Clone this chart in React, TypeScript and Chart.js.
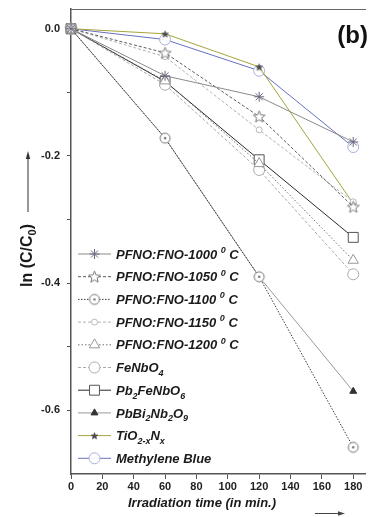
import React, { useEffect, useRef } from 'react';
import { Chart, registerables } from 'chart.js';
import { drawPoint } from 'chart.js/helpers';

Chart.register(...registerables);

// ---- data ----
const times = [0, 60, 120, 180];
const xTicks = [0, 20, 40, 60, 80, 100, 120, 140, 160, 180];
const yTicks = [-0.6, -0.5, -0.4, -0.3, -0.2, -0.1, 0];
const yLabelTicks = [-0.6, -0.4, -0.2, 0];

const seriesNames = [
  'PFNO:FNO-1000 ^{0} C',
  'PFNO:FNO-1050 ^{0} C',
  'PFNO:FNO-1100 ^{0} C',
  'PFNO:FNO-1150 ^{0} C',
  'PFNO:FNO-1200 ^{0} C',
  'FeNbO_{4}',
  'Pb_{2}FeNbO_{6}',
  'PbBi_{2}Nb_{2}O_{9}',
  'TiO_{2-x}N_{x}',
  'Methylene Blue',
];

const pfno1000 = [0, -0.074, -0.107, -0.178];
const pfno1050 = [0, -0.038, -0.138, -0.28];
const pfno1100 = [0, -0.172, -0.39, -0.658];
const pfno1150 = [0, -0.044, -0.159, -0.272];
const pfno1200 = [0, -0.082, -0.212, -0.364];
const feNbO4 = [0, -0.088, -0.222, -0.386];
const pb2FeNbO6 = [0, -0.083, -0.206, -0.328];
const pbBi2Nb2O9 = [0, -0.172, -0.39, -0.57];
const tio2xNx = [0, -0.008, -0.06, -0.275];
const methyleneBlue = [0, -0.017, -0.066, -0.186];

const seriesValues = [pfno1000, pfno1050, pfno1100, pfno1150, pfno1200, feNbO4, pb2FeNbO6, pbBi2Nb2O9, tio2xNx, methyleneBlue];

const FONT = '"Liberation Sans", Arial, sans-serif';

function toUnicode(s: string) {
  return s
    .replace(/\^\{0\}/g, '⁰')
    .replace(/_\{([^}]*)\}/g, (_m, g) =>
      g.split('').map((c: string) => ({ '0': '₀', '1': '₁', '2': '₂', '4': '₄', '6': '₆', '9': '₉', '-': '₋', x: 'ₓ' } as any)[c] || c).join('')
    );
}

function makeStar(r: number, inner: number, fill: string, stroke: string, lw: number) {
  const size = Math.ceil(r * 2 + lw * 2 + 2);
  const c = document.createElement('canvas');
  c.width = size;
  c.height = size;
  const g = c.getContext('2d')!;
  const cx = size / 2, cy = size / 2 + 0.5;
  g.beginPath();
  for (let i = 0; i < 10; i++) {
    const rad = i % 2 === 0 ? r : inner;
    const a = -Math.PI / 2 + (i * Math.PI) / 5;
    const px = cx + rad * Math.cos(a), py = cy + rad * Math.sin(a);
    if (i === 0) g.moveTo(px, py); else g.lineTo(px, py);
  }
  g.closePath();
  g.fillStyle = fill;
  g.fill();
  if (lw > 0) { g.strokeStyle = stroke; g.lineWidth = lw; g.stroke(); }
  return c;
}

function makeDotCircle(r: number, stroke: string) {
  const size = Math.ceil(r * 2 + 4);
  const c = document.createElement('canvas');
  c.width = size; c.height = size;
  const g = c.getContext('2d')!;
  const cx = size / 2, cy = size / 2;
  g.beginPath(); g.arc(cx, cy, r, 0, Math.PI * 2);
  g.fillStyle = '#fff'; g.fill();
  g.strokeStyle = stroke; g.lineWidth = 1; g.stroke();
  g.beginPath(); g.arc(cx, cy, 1.3, 0, Math.PI * 2);
  g.fillStyle = stroke; g.fill();
  return c;
}

function drawRich(ctx: CanvasRenderingContext2D, text: string, x: number, yMid: number, size: number, style: string) {
  const parts = text.split(/(\^\{[^}]*\}|_\{[^}]*\})/).filter((p) => p.length);
  let cx = x;
  const base = yMid + size * 0.36;
  for (const p of parts) {
    let t = p, fs = size, dy = 0;
    if (p.startsWith('^{')) { t = p.slice(2, -1); fs = Math.round(size * 0.68); dy = -size * 0.45; }
    else if (p.startsWith('_{')) { t = p.slice(2, -1); fs = Math.round(size * 0.68); dy = size * 0.28; }
    ctx.font = `${style} ${fs}px ${FONT}`;
    ctx.fillText(t, cx, base + dy);
    cx += ctx.measureText(t).width;
  }
}

const legendTop = 254;
const legendGap = 22.7;

const decorPlugin = {
  id: 'decor',
  afterDatasetsDraw(chart: any) {
    const ctx: CanvasRenderingContext2D = chart.ctx;
    const area = chart.chartArea;
    ctx.save();
    // top frame
    ctx.strokeStyle = '#666';
    ctx.lineWidth = 1;
    ctx.beginPath();
    ctx.moveTo(area.left, area.top + 0.5);
    ctx.lineTo(area.right + 1, area.top + 0.5);
    ctx.stroke();

    // panel label
    ctx.fillStyle = '#111';
    ctx.font = `bold 24px ${FONT}`;
    ctx.textAlign = 'right';
    ctx.textBaseline = 'middle';
    ctx.fillText('(b)', area.right + 3, 36);
    ctx.textAlign = 'left';
    ctx.textBaseline = 'alphabetic';

    // legend
    chart.data.datasets.forEach((ds: any, i: number) => {
      const y = legendTop + i * legendGap;
      ctx.save();
      ctx.strokeStyle = ds.borderColor;
      ctx.lineWidth = ds.borderWidth;
      ctx.setLineDash(ds.borderDash || []);
      ctx.beginPath();
      ctx.moveTo(78, y);
      ctx.lineTo(111, y);
      ctx.stroke();
      ctx.setLineDash([]);
      ctx.fillStyle = ds.pointBackgroundColor;
      ctx.strokeStyle = ds.pointBorderColor;
      ctx.lineWidth = ds.pointBorderWidth;
      drawPoint(ctx, { pointStyle: ds.pointStyle, radius: ds.pointRadius, rotation: 0, borderWidth: ds.pointBorderWidth } as any, 94.5, y);
      ctx.fillStyle = '#1a1a1a';
      drawRich(ctx, seriesNames[i], 116, y, 13, 'italic bold');
      ctx.restore();
    });

    // y axis title
    ctx.save();
    ctx.fillStyle = '#1a1a1a';
    ctx.translate(32, 287);
    ctx.rotate(-Math.PI / 2);
    drawRich(ctx, 'ln (C/C_{0})', 0, -5.8, 16, 'bold');
    ctx.restore();
    // y arrow
    ctx.strokeStyle = '#333';
    ctx.fillStyle = '#333';
    ctx.lineWidth = 1;
    ctx.beginPath();
    ctx.moveTo(28, 212);
    ctx.lineTo(28, 156);
    ctx.stroke();
    ctx.beginPath();
    ctx.moveTo(28, 151);
    ctx.lineTo(25.8, 159);
    ctx.lineTo(30.2, 159);
    ctx.closePath();
    ctx.fill();

    // x axis title
    ctx.fillStyle = '#1a1a1a';
    drawRich(ctx, 'Irradiation time (in min.)', 128, 502, 13, 'italic bold');
    // x arrow
    ctx.strokeStyle = '#444';
    ctx.fillStyle = '#444';
    ctx.beginPath();
    ctx.moveTo(315, 513.5);
    ctx.lineTo(340, 513.5);
    ctx.stroke();
    ctx.beginPath();
    ctx.moveTo(345, 513.5);
    ctx.lineTo(338, 511.3);
    ctx.lineTo(338, 515.7);
    ctx.closePath();
    ctx.fill();
    ctx.restore();
  },
};

export default function App() {
  const ref = useRef<HTMLCanvasElement | null>(null);

  useEffect(() => {
    if (!ref.current) return;
    const star1050 = makeStar(6.2, 2.7, '#ffffff', '#7a7a7a', 1);
    const starTi = makeStar(3.6, 1.6, '#4a4a4a', '#4a4a4a', 0.5);
    const dotCircle = makeDotCircle(5, '#777');

    const styles = [
      { borderColor: '#8a8a8a', borderDash: [], pointStyle: 'star', pointRadius: 5, pointBorderColor: '#6a6a80', pointBackgroundColor: '#fff', pointBorderWidth: 1 },
      { borderColor: '#5a5a5a', borderDash: [3, 2], pointStyle: star1050, pointRadius: 6, pointBorderColor: '#777', pointBackgroundColor: '#fff', pointBorderWidth: 1 },
      { borderColor: '#3a3a3a', borderDash: [1.5, 1.5], pointStyle: dotCircle, pointRadius: 5, pointBorderColor: '#777', pointBackgroundColor: '#fff', pointBorderWidth: 1 },
      { borderColor: '#b0b0b0', borderDash: [3, 2], pointStyle: 'circle', pointRadius: 3, pointBorderColor: '#b8b8b8', pointBackgroundColor: '#fff', pointBorderWidth: 1 },
      { borderColor: '#707070', borderDash: [1.5, 2], pointStyle: 'triangle', pointRadius: 6, pointBorderColor: '#999', pointBackgroundColor: '#fff', pointBorderWidth: 1 },
      { borderColor: '#a8a8a8', borderDash: [3, 2], pointStyle: 'circle', pointRadius: 5.5, pointBorderColor: '#aaa', pointBackgroundColor: '#fff', pointBorderWidth: 1 },
      { borderColor: '#2a2a2a', borderDash: [], pointStyle: 'rect', pointRadius: 7, pointBorderColor: '#555', pointBackgroundColor: '#fff', pointBorderWidth: 1 },
      { borderColor: '#9a9a9a', borderDash: [], pointStyle: 'triangle', pointRadius: 4, pointBorderColor: '#333', pointBackgroundColor: '#333', pointBorderWidth: 1 },
      { borderColor: '#a4a43a', borderDash: [], pointStyle: starTi, pointRadius: 3.6, pointBorderColor: '#4a4a4a', pointBackgroundColor: '#4a4a4a', pointBorderWidth: 1 },
      { borderColor: '#6670c0', borderDash: [], pointStyle: 'circle', pointRadius: 5.5, pointBorderColor: '#a8b0dc', pointBackgroundColor: 'rgba(255,255,255,0.9)', pointBorderWidth: 1 },
    ];

    const datasets = seriesValues.map((vals, i) => ({
      label: toUnicode(seriesNames[i]),
      data: vals.map((v, j) => ({ x: times[j], y: v })),
      borderWidth: 1,
      tension: 0,
      clip: false as any,
      pointHoverRadius: styles[i].pointRadius,
      ...styles[i],
    }));

    const chart = new Chart(ref.current, {
      type: 'line',
      data: { datasets: datasets as any },
      options: {
        animation: false,
        responsive: false,
        devicePixelRatio: 1,
        layout: { padding: { top: 9, right: 1, left: 0, bottom: 0 } },
        plugins: { legend: { display: false }, tooltip: { enabled: false } },
        scales: {
          x: {
            type: 'linear',
            min: 0,
            max: 187.5,
            afterBuildTicks: (s: any) => { s.ticks = xTicks.map((v) => ({ value: v })); },
            afterFit: (s: any) => { s.height = 43; },
            grid: { display: true, drawOnChartArea: false, drawTicks: true, tickLength: 5, color: '#555' },
            border: { display: true, color: '#555', width: 1.5 },
            ticks: { color: '#222', font: { family: FONT, weight: 'bold', size: 11 }, padding: 1, maxRotation: 0, autoSkip: false },
          },
          y: {
            type: 'linear',
            min: -0.7,
            max: 0.031,
            afterBuildTicks: (s: any) => { s.ticks = yTicks.map((v) => ({ value: v })); },
            afterFit: (s: any) => { s.width = 71; s.paddingTop = 0; s.paddingBottom = 0; },
            grid: { display: true, drawOnChartArea: false, drawTicks: true, tickLength: 4, color: '#555' },
            border: { display: true, color: '#555', width: 1.5 },
            ticks: {
              color: '#222',
              font: { family: FONT, weight: 'bold', size: 11 },
              padding: 7,
              autoSkip: false,
              callback: (v: any) => (yLabelTicks.some((t) => Math.abs(t - Number(v)) < 1e-9) ? Number(v).toFixed(1) : ''),
            },
          },
        },
      },
      plugins: [decorPlugin as any],
    });
    return () => chart.destroy();
  }, []);

  return (
    <div style={{ position: 'absolute', left: 0, top: 0, width: 373, height: 517, background: '#fff' }}>
      <canvas ref={ref} width={373} height={517} style={{ width: 373, height: 517, display: 'block' }} />
    </div>
  );
}
